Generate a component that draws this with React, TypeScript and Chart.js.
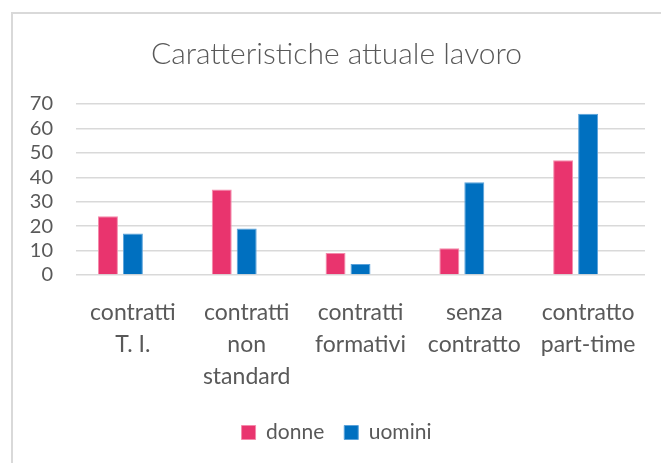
import React, { useEffect, useRef } from "react";
import { Chart, registerables } from "chart.js";

Chart.register(...registerables);

const categories: (string | string[])[] = [
  ["contratti", "T. I."],
  ["contratti", "non", "standard"],
  ["contratti", "formativi"],
  ["senza", "contratto"],
  ["contratto", "part-time"],
];
const donne = [24, 35, 9, 11, 47];
const uomini = [17, 19, 4.5, 38, 66];
const emptySeries = [null, null, null, null, null];
const yTicks = [0, 10, 20, 30, 40, 50, 60, 70];

const FONT = "Lato, 'Open Sans', sans-serif";
const GRAY = "#595959";

export default function App() {
  const ref = useRef<HTMLCanvasElement | null>(null);
  useEffect(() => {
    if (!ref.current) return;
    const chart = new Chart(ref.current, {
      type: "bar",
      data: {
        labels: categories,
        datasets: [
          {
            label: "donne",
            data: donne,
            backgroundColor: "#E9346E",
            borderColor: "#F48AAB",
            borderWidth: 1,
          },
          {
            label: "uomini",
            data: uomini,
            backgroundColor: "#0070C0",
            borderColor: "#5AA2DA",
            borderWidth: 1,
          },
          {
            label: "",
            data: emptySeries as any,
            backgroundColor: "rgba(0,0,0,0)",
          },
        ],
      },
      options: {
        animation: false,
        responsive: false,
        maintainAspectRatio: false,
        datasets: { bar: { categoryPercentage: 0.658, barPercentage: 0.8 } },
        layout: { padding: { left: 15, right: 16, top: 0, bottom: 10 } },
        plugins: {
          title: {
            display: true,
            text: "Caratteristiche attuale lavoro",
            color: GRAY,
            font: { family: FONT, size: 30, weight: "300" as any, lineHeight: 1.2 },
            padding: { top: 22, bottom: 32 },
          },
          legend: {
            position: "bottom",
            labels: {
              color: GRAY,
              font: { family: FONT, size: 21 },
              boxWidth: 14,
              boxHeight: 14,
              padding: 20,
              filter: (item) => item.text !== "",
            },
          },
          tooltip: { enabled: false },
        },
        scales: {
          x: {
            grid: { display: false },
            border: { display: false },
            afterFit: (scale: any) => {
              scale.height = 127;
            },
            ticks: {
              color: GRAY,
              font: { family: FONT, size: 23, lineHeight: 1.4 },
              padding: 13,
              maxRotation: 0,
              autoSkip: false,
            },
          },
          y: {
            min: 0,
            max: 70,
            afterBuildTicks: (scale: any) => {
              scale.ticks = yTicks.map((v) => ({ value: v }));
            },
            afterFit: (scale: any) => {
              scale.width = 48;
            },
            grid: { color: "#D9D9D9", lineWidth: 1.5, drawTicks: false },
            border: { display: false },
            ticks: {
              color: GRAY,
              font: { family: FONT, size: 20 },
              padding: 23,
              autoSkip: false,
            },
          },
        },
      },
    });
    return () => chart.destroy();
  }, []);
  return (
    <div
      style={{
        position: "absolute",
        left: 11,
        top: 12,
        width: 650,
        height: 451,
        borderLeft: "2px solid #D9D9D9",
        borderTop: "2px solid #D9D9D9",
        boxSizing: "border-box",
        background: "#fff",
      }}
    >
      <canvas ref={ref} width={648} height={449} style={{ display: "block" }} />
    </div>
  );
}
